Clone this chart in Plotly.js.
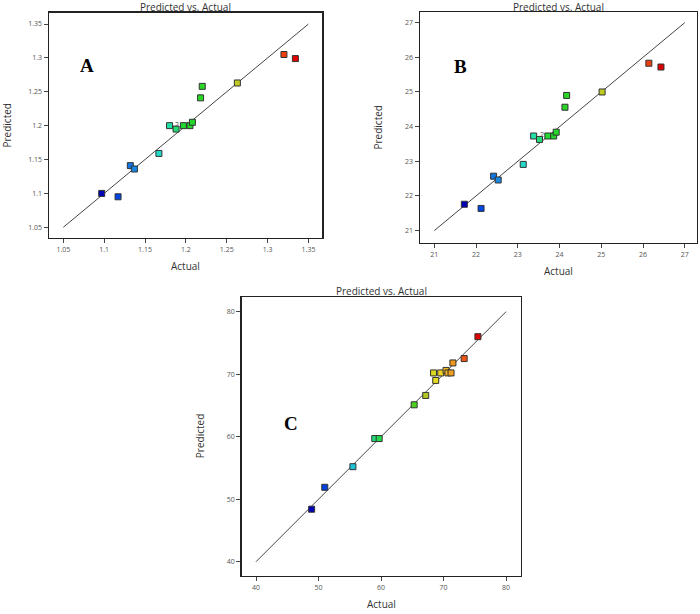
<!DOCTYPE html>
<html>
<head>
<meta charset="utf-8">
<script src="https://cdn.plot.ly/plotly-3.0.1.min.js"></script>
<style>html,body{margin:0;padding:0;background:#fff;}#chart{width:700px;height:614px;}</style>
</head>
<body>
<div id="chart"></div>
<script>
// Panel A
const actualA = [1.097, 1.117, 1.132, 1.137, 1.167, 1.180, 1.188, 1.197, 1.205, 1.208, 1.218, 1.220, 1.263, 1.320, 1.334];
const predA   = [1.100, 1.095, 1.141, 1.136, 1.159, 1.200, 1.195, 1.200, 1.200, 1.205, 1.241, 1.258, 1.263, 1.305, 1.299];
const ticksA  = [1.05, 1.1, 1.15, 1.2, 1.25, 1.3, 1.35];
const tickTextA = ['1.05', '1.1', '1.15', '1.2', '1.25', '1.3', '1.35'];
const dupIndexA = 7;
// Panel B
const actualB = [21.72, 22.12, 22.42, 22.53, 23.13, 23.38, 23.52, 23.72, 23.86, 23.92, 24.13, 24.17, 25.02, 26.14, 26.43];
const predB   = [21.76, 21.64, 22.57, 22.46, 22.91, 23.73, 23.63, 23.73, 23.73, 23.84, 24.56, 24.90, 25.00, 25.83, 25.72];
const ticksB  = [21, 22, 23, 24, 25, 26, 27];
const dupIndexB = 7;
// Panel C
const actualC = [48.9, 51.0, 55.5, 59.0, 59.7, 65.3, 67.15, 68.75, 68.4, 69.55, 70.4, 70.7, 71.2, 71.5, 73.3, 75.5];
const predC   = [48.4, 51.9, 55.2, 59.7, 59.7, 65.1, 66.6, 69.0, 70.2, 70.2, 70.6, 70.2, 70.2, 71.8, 72.5, 76.0];
const ticksC  = [40, 50, 60, 70, 80];

const panelTitle = 'Predicted vs. Actual';
const xTitle = 'Actual';
const yTitle = 'Predicted';
const panelLetters = ['A', 'B', 'C'];

const cscale = [
  [0, '#0000b4'], [0.08, '#0042e0'], [0.18, '#1a8ee2'], [0.28, '#22d8d4'],
  [0.36, '#22e0a0'], [0.42, '#22d830'], [0.6, '#30d41e'], [0.68, '#aec420'],
  [0.76, '#f0e020'], [0.84, '#f0a020'], [0.92, '#f05214'], [1, '#e00000']
];

function pts(ax, ay, xa, ya) {
  return {
    type: 'scatter', mode: 'markers', x: ax, y: ay, xaxis: xa, yaxis: ya,
    marker: {
      symbol: 'square', size: 6, color: ax, colorscale: cscale,
      cmin: Math.min(...ax), cmax: Math.max(...ax), showscale: false,
      line: {color: '#333', width: 1}
    },
    hoverinfo: 'x+y', showlegend: false
  };
}
function diag(t, xa, ya) {
  const lo = t[0], hi = t[t.length - 1];
  return {type: 'scatter', mode: 'lines', x: [lo, hi], y: [lo, hi], xaxis: xa, yaxis: ya,
    line: {color: '#444', width: 1}, hoverinfo: 'skip', showlegend: false};
}

const data = [
  diag(ticksA, 'x', 'y'), pts(actualA, predA, 'x', 'y'),
  diag(ticksB, 'x2', 'y2'), pts(actualB, predB, 'x2', 'y2'),
  diag(ticksC, 'x3', 'y3'), pts(actualC, predC, 'x3', 'y3')
];

const tickFont = {family: 'Open Sans, sans-serif', size: 7, color: '#555'};
const titleFont = {family: 'Open Sans, sans-serif', size: 10, color: '#333'};
function ax(domain, range, tv, tt, anchor) {
  return {
    domain: domain, range: range, anchor: anchor,
    tickmode: 'array', tickvals: tv, ticktext: tt || tv.map(String),
    ticks: 'outside', ticklen: 4, tickwidth: 1, tickcolor: '#444',
    showline: true, mirror: true, linecolor: '#222', linewidth: 1.5,
    showgrid: false, zeroline: false, tickfont: tickFont,
    title: {text: '', font: titleFont}
  };
}

const layout = {
  width: 700, height: 614, margin: {l: 0, r: 0, t: 0, b: 0},
  paper_bgcolor: '#fff', plot_bgcolor: '#fff', showlegend: false,
  xaxis:  ax([0.070, 0.4605], [1.0325, 1.367], ticksA, tickTextA, 'y'),
  yaxis:  ax([0.6124, 0.9793], [1.0342, 1.3667], ticksA, tickTextA, 'x'),
  xaxis2: ax([0.600, 0.9955], [20.657, 27.29], ticksB, null, 'y2'),
  yaxis2: ax([0.6047, 0.980], [20.65, 27.30], ticksB, null, 'x2'),
  xaxis3: ax([0.3453, 0.7439], [37.71, 82.35], ticksC, null, 'y3'),
  yaxis3: ax([0.0624, 0.5158], [37.76, 82.3], ticksC, null, 'x3'),
  annotations: []
};

const panels = [
  {l: 49, r: 322, t: 13, b: 238, letter: [86.7, 65.8]},
  {l: 420, r: 697, t: 12.3, b: 242.7, letter: [460.3, 66.3]},
  {l: 241.7, r: 520.7, t: 297.3, b: 575.7, letter: [290.7, 423]}
];
const W = 700, H = 614;
panels.forEach((p, i) => {
  const cx = (p.l + p.r) / 2, cy = (p.t + p.b) / 2;
  layout.annotations.push({xref: 'paper', yref: 'paper', x: cx / W, y: 1 - Math.max(p.t - 6, 7) / H,
    text: panelTitle, showarrow: false, xanchor: 'center', yanchor: 'middle', borderpad: 0,
    font: {family: 'Open Sans, sans-serif', size: 10, color: '#333'}});
  layout.annotations.push({xref: 'paper', yref: 'paper', x: cx / W, y: 1 - (p.b + 28) / H,
    text: xTitle, showarrow: false, xanchor: 'center', yanchor: 'middle', font: titleFont});
  layout.annotations.push({xref: 'paper', yref: 'paper', x: (p.l - 42) / W, y: 1 - cy / H,
    text: yTitle, showarrow: false, textangle: -90, xanchor: 'center', yanchor: 'middle', font: titleFont});
  layout.annotations.push({xref: 'paper', yref: 'paper', x: p.letter[0] / W, y: 1 - p.letter[1] / H,
    text: '<b>' + panelLetters[i] + '</b>', showarrow: false, xanchor: 'center', yanchor: 'middle',
    font: {family: 'Liberation Serif, Times New Roman, serif', size: 19, color: '#000'}});
});
layout.annotations.push({xref: 'x', yref: 'y', x: actualA[dupIndexA], y: predA[dupIndexA], text: '2',
  showarrow: false, xanchor: 'right', yanchor: 'middle', xshift: -3, yshift: 1, borderpad: 0,
  font: {family: 'Open Sans, sans-serif', size: 7, color: '#444'}});
layout.annotations.push({xref: 'x2', yref: 'y2', x: actualB[dupIndexB], y: predB[dupIndexB], text: '2',
  showarrow: false, xanchor: 'right', yanchor: 'middle', xshift: -3, yshift: 1, borderpad: 0,
  font: {family: 'Open Sans, sans-serif', size: 7, color: '#444'}});

Plotly.newPlot('chart', data, layout, {displayModeBar: false, staticPlot: true});
</script>
</body>
</html>
